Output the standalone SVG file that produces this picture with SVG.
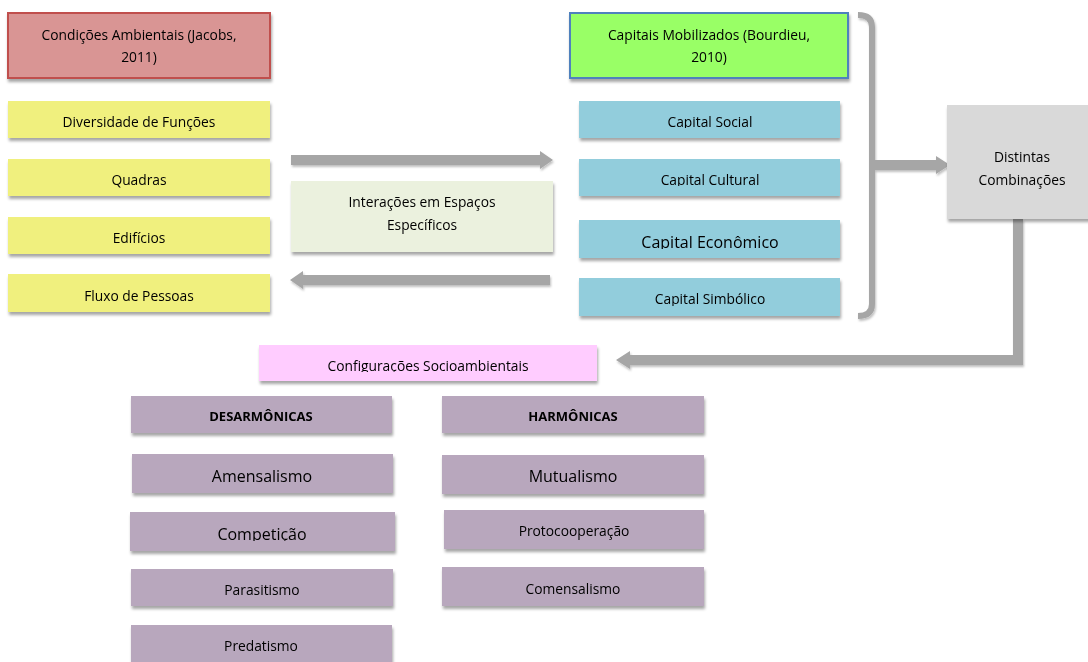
<svg xmlns="http://www.w3.org/2000/svg" width="1088" height="662" viewBox="0 0 1088 662">
<defs>
<filter id="sh" x="-10%" y="-20%" width="120%" height="160%"><feDropShadow dx="1" dy="3" stdDeviation="1.8" flood-color="#000" flood-opacity="0.35"/></filter>
<filter id="sh2" x="-10%" y="-20%" width="120%" height="160%"><feDropShadow dx="1" dy="2" stdDeviation="1.2" flood-color="#000" flood-opacity="0.25"/></filter>
<clipPath id="c1"><rect x="579" y="101" width="261" height="27"/></clipPath>
<clipPath id="c2"><rect x="579" y="159" width="261" height="27"/></clipPath>
<clipPath id="c3"><rect x="579" y="220" width="261" height="29"/></clipPath>
<clipPath id="c4"><rect x="579" y="278" width="261" height="28"/></clipPath>
<clipPath id="c5"><rect x="259" y="345" width="338" height="27"/></clipPath>
<clipPath id="c6"><rect x="130" y="512" width="265" height="29"/></clipPath>
</defs>
<style>
text{font-family:"Open Sans","Noto Sans","Liberation Sans",sans-serif;font-size:13.8px;fill:#000;text-anchor:middle}
.big{font-size:16px}
.b{font-weight:bold;font-size:13px}
.y{fill:#f0f07e}
.bl{fill:#92cddc}
.p{fill:#b8a7bd}
.ar{fill:#a6a6a6}
</style>
<rect width="1088" height="662" fill="#fff"/>
<g id="connectors" filter="url(#sh2)">
<polygon class="ar" points="291,155 540,155 540,151 553,160 540,169 540,165 291,165"/>
<polygon class="ar" points="550,275 303,275 303,271 290,280 303,289 303,285 550,285"/>
<path d="M858,15 Q872,15 872,27 L872,304 Q872,316 858,316" fill="none" stroke="#a6a6a6" stroke-width="6"/>
<polygon class="ar" points="872,160 936,160 936,156 950,165 936,174 936,170 872,170"/>
<polygon class="ar" points="1013,219 1023,219 1023,365 630,365 630,369 616,360 630,351 630,355 1013,355"/>
</g>
<g id="n-cond" filter="url(#sh)"><rect x="8" y="13" width="262" height="65" fill="#d99594" stroke="#c0504d" stroke-width="2"/><text x="139" y="40">Condições Ambientais (Jacobs,</text><text x="139" y="62">2011)</text></g>
<g id="n-cap" filter="url(#sh)"><rect x="570" y="13" width="278" height="65" fill="#99ff66" stroke="#4f81bd" stroke-width="2"/><text x="709" y="40">Capitais Mobilizados (Bourdieu,</text><text x="709" y="62">2010)</text></g>
<g id="n-div" filter="url(#sh)"><rect class="y" x="8" y="101" width="262" height="37"/><text x="139" y="127">Diversidade de Funções</text></g>
<g id="n-quad" filter="url(#sh)"><rect class="y" x="8" y="159" width="262" height="37"/><text x="139" y="185">Quadras</text></g>
<g id="n-edif" filter="url(#sh)"><rect class="y" x="8" y="217" width="262" height="37"/><text x="139" y="243">Edifícios</text></g>
<g id="n-fluxo" filter="url(#sh)"><rect class="y" x="8" y="274" width="262" height="38"/><text x="139" y="301">Fluxo de Pessoas</text></g>
<g id="n-inter" filter="url(#sh)"><rect x="291" y="181" width="262" height="71" fill="#ebf1de"/><text x="422" y="207">Interações em Espaços</text><text x="422" y="230">Específicos</text></g>
<g id="n-social" filter="url(#sh)"><rect class="bl" x="579" y="101" width="261" height="37"/><text x="710" y="127" clip-path="url(#c1)">Capital Social</text></g>
<g id="n-cultural" filter="url(#sh)"><rect class="bl" x="579" y="159" width="261" height="37"/><text x="710" y="185" clip-path="url(#c2)">Capital Cultural</text></g>
<g id="n-econ" filter="url(#sh)"><rect class="bl" x="579" y="220" width="261" height="38"/><text class="big" x="710" y="248" clip-path="url(#c3)">Capital Econômico</text></g>
<g id="n-simb" filter="url(#sh)"><rect class="bl" x="579" y="278" width="261" height="38"/><text x="710" y="304" clip-path="url(#c4)">Capital Simbólico</text></g>
<g id="n-dist" filter="url(#sh)"><rect x="947" y="105" width="145" height="114" fill="#d9d9d9"/><text x="1022" y="162">Distintas</text><text x="1022" y="185">Combinações</text></g>
<g id="n-config" filter="url(#sh)"><rect x="259" y="345" width="338" height="36" fill="#ffccff"/><text x="428" y="371" clip-path="url(#c5)">Configurações Socioambientais</text></g>
<g id="n-desarm" filter="url(#sh)"><rect class="p" x="131" y="396" width="261" height="37"/><text class="b" x="261" y="421">DESARMÔNICAS</text></g>
<g id="n-amens" filter="url(#sh)"><rect class="p" x="132" y="454" width="261" height="39"/><text class="big" x="262" y="482">Amensalismo</text></g>
<g id="n-compet" filter="url(#sh)"><rect class="p" x="130" y="512" width="265" height="39"/><text class="big" x="262" y="540" clip-path="url(#c6)">Competição</text></g>
<g id="n-paras" filter="url(#sh)"><rect class="p" x="131" y="569" width="262" height="37"/><text x="262" y="595">Parasitismo</text></g>
<g id="n-pred" filter="url(#sh)"><rect class="p" x="131" y="625" width="261" height="40"/><text x="261" y="651">Predatismo</text></g>
<g id="n-harm" filter="url(#sh)"><rect class="p" x="442" y="396" width="262" height="37"/><text class="b" x="573" y="421">HARMÔNICAS</text></g>
<g id="n-mutu" filter="url(#sh)"><rect class="p" x="442" y="455" width="262" height="39"/><text class="big" x="573" y="482">Mutualismo</text></g>
<g id="n-proto" filter="url(#sh)"><rect class="p" x="444" y="510" width="260" height="39"/><text x="574" y="536">Protocooperação</text></g>
<g id="n-comens" filter="url(#sh)"><rect class="p" x="442" y="567" width="262" height="39"/><text x="573" y="594">Comensalismo</text></g>
</svg>
